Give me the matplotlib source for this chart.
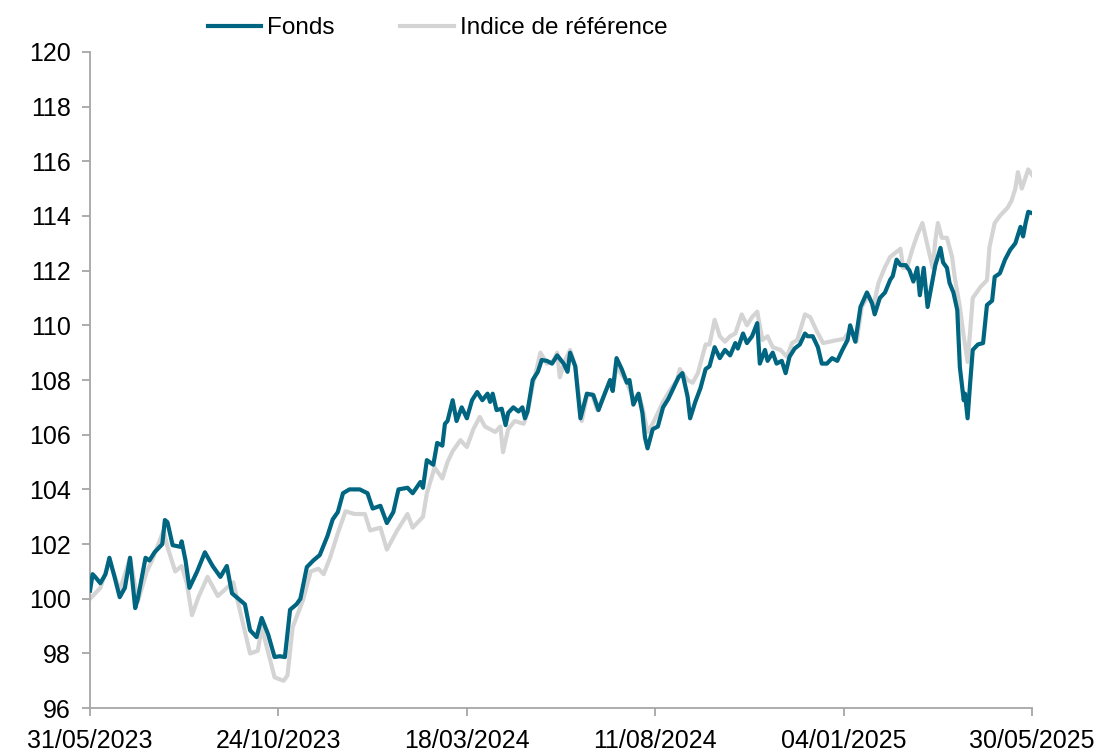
import numpy as np
import pandas as pd
import matplotlib
matplotlib.use('Agg')
from matplotlib import pyplot as plt
import matplotlib.dates as mdates

plt.rcParams['font.family'] = ['Liberation Sans', 'DejaVu Sans']

START = '2023-05-31'

# jours depuis le 31/05/2023, valeur base 100
fonds_days = [0, 2, 4, 8, 12, 15, 19, 23, 27, 31, 35, 37, 43, 46, 50, 56, 58, 60, 64, 70,
              71, 74, 77, 83, 89, 95, 101, 106, 110, 115, 120, 124, 129, 133, 138, 143, 147, 151, 155, 160,
              163, 168, 173, 178, 184, 188, 192, 196, 201, 209, 215, 219, 225, 230, 235, 239, 246, 250, 256, 258,
              261, 266, 269, 273, 275, 277, 281, 284, 288, 292, 296, 300, 304, 308, 310, 312, 315, 319, 322, 324,
              328, 332, 335, 337, 339, 343, 347, 350, 354, 358, 362, 367, 370, 372, 376, 380, 385, 390, 394, 398,
              403, 405, 408, 412, 416, 418, 421, 425, 428, 430, 432, 436, 440, 444, 448, 452, 456, 459, 463, 465,
              469, 473, 477, 480, 484, 488, 492, 496, 500, 502, 506, 509, 513, 517, 519, 523, 525, 529, 532, 536,
              539, 542, 546, 550, 554, 556, 560, 564, 567, 571, 575, 579, 583, 587, 589, 593, 597, 602, 606, 608,
              612, 616, 620, 622, 625, 628, 632, 635, 638, 641, 643, 646, 649, 653, 655, 659, 661, 664, 666, 669,
              672, 674, 677, 678, 680, 682, 684, 688, 692, 695, 699, 701, 705, 709, 713, 717, 721, 723, 725, 727,
              730]
fonds_vals = [100.3, 100.9, 100.8, 100.57, 100.9, 101.5, 100.8, 100.06, 100.4, 101.5, 99.66, 100.0, 101.5, 101.4, 101.7, 102.0, 102.88, 102.8, 101.96, 101.9,
              102.1, 101.4, 100.4, 101.0, 101.7, 101.2, 100.8, 101.2, 100.2, 100.0, 99.8, 98.85, 98.6, 99.3, 98.7, 97.87, 97.9, 97.87, 99.6, 99.8,
              100.0, 101.16, 101.4, 101.6, 102.3, 102.9, 103.17, 103.86, 104.0, 104.0, 103.86, 103.3, 103.4, 102.77, 103.17, 104.0, 104.06, 103.86, 104.27, 104.06,
              105.07, 104.9, 105.7, 105.6, 106.4, 106.5, 107.26, 106.5, 107.0, 106.6, 107.26, 107.56, 107.26, 107.5, 107.2, 107.5, 106.9, 106.95, 106.35, 106.8,
              107.0, 106.85, 107.0, 106.6, 106.85, 108.0, 108.3, 108.73, 108.7, 108.6, 108.9, 108.6, 108.3, 109.0, 108.5, 106.6, 107.5, 107.45, 106.9, 107.4,
              108.0, 107.6, 108.8, 108.4, 107.9, 108.0, 107.1, 107.5, 106.8, 105.9, 105.5, 106.2, 106.3, 107.0, 107.3, 107.7, 108.1, 108.25, 107.4, 106.6,
              107.2, 107.7, 108.4, 108.5, 109.2, 108.8, 109.1, 108.9, 109.35, 109.15, 109.7, 109.35, 109.6, 110.08, 108.6, 109.1, 108.7, 109.0, 108.6, 108.7,
              108.25, 108.85, 109.15, 109.3, 109.7, 109.6, 109.6, 109.2, 108.6, 108.6, 108.8, 108.7, 109.1, 109.46, 110.0, 109.4, 110.67, 111.2, 110.8, 110.4,
              111.0, 111.2, 111.66, 111.8, 112.4, 112.2, 112.2, 112.0, 111.6, 112.1, 111.1, 112.1, 110.67, 111.7, 112.2, 112.83, 112.3, 112.1, 111.55, 111.2,
              110.56, 108.47, 107.26, 107.5, 106.6, 107.9, 109.1, 109.3, 109.35, 110.74, 110.9, 111.77, 111.9, 112.4, 112.76, 113.0, 113.6, 113.25, 113.75, 114.15,
              114.1]

indice_days = [0, 4, 8, 15, 23, 31, 37, 44, 48, 57, 60, 66, 71, 75, 79, 84, 91, 99, 106, 111,
               118, 124, 130, 133, 139, 143, 150, 153, 157, 165, 171, 177, 181, 186, 192, 198, 205, 213, 217, 225,
               230, 238, 246, 250, 258, 261, 267, 273, 277, 281, 287, 292, 297, 302, 306, 310, 314, 318, 320, 324,
               329, 336, 339, 343, 349, 354, 359, 362, 364, 368, 372, 376, 378, 381, 385, 389, 393, 398, 403, 405,
               408, 412, 416, 421, 425, 428, 432, 436, 440, 444, 449, 455, 457, 463, 467, 471, 477, 480, 484, 488,
               492, 496, 500, 505, 509, 513, 517, 521, 525, 529, 535, 540, 544, 548, 554, 558, 563, 568, 573, 579,
               584, 589, 594, 598, 603, 607, 611, 616, 620, 624, 628, 630, 633, 637, 641, 645, 649, 653, 655, 657,
               660, 664, 668, 670, 674, 677, 680, 682, 684, 690, 695, 697, 701, 705, 711, 714, 717, 719, 722, 727,
               730]
indice_vals = [100.0, 100.2, 100.4, 101.4, 100.3, 101.5, 99.9, 101.0, 101.4, 102.5, 101.9, 101.0, 101.2, 100.57, 99.4, 100.06, 100.8, 100.1, 100.4, 100.6,
               99.2, 98.0, 98.1, 98.96, 97.87, 97.13, 97.0, 97.2, 98.96, 99.95, 101.0, 101.1, 100.9, 101.5, 102.4, 103.2, 103.1, 103.1, 102.5, 102.6,
               101.8, 102.5, 103.1, 102.6, 103.0, 103.86, 104.8, 104.4, 105.0, 105.4, 105.8, 105.55, 106.2, 106.65, 106.3, 106.2, 106.1, 106.3, 105.36, 106.2,
               106.5, 106.4, 106.8, 107.8, 109.0, 108.6, 108.7, 109.0, 108.1, 108.7, 109.1, 108.5, 107.7, 106.5, 107.4, 107.5, 106.9, 107.4, 108.0, 107.6,
               108.5, 108.2, 107.9, 107.3, 107.5, 107.0, 106.1, 106.4, 106.8, 107.2, 107.6, 108.0, 108.4, 108.0, 107.9, 108.25, 109.3, 109.3, 110.2, 109.6,
               109.4, 109.6, 109.7, 110.4, 110.0, 110.3, 110.5, 109.46, 109.6, 109.2, 109.1, 108.85, 109.35, 109.46, 110.4, 110.3, 109.8, 109.35, 109.4, 109.46,
               109.5, 109.8, 109.4, 110.67, 111.1, 110.7, 111.55, 112.13, 112.5, 112.65, 112.8, 112.1, 112.1, 112.75, 113.3, 113.74, 112.9, 112.1, 113.1, 113.74,
               113.2, 113.2, 112.5, 111.77, 110.67, 109.6, 108.66, 109.8, 111.0, 111.4, 111.65, 112.87, 113.74, 114.0, 114.3, 114.55, 115.0, 115.6, 115.0, 115.7,
               115.5]

tick_labels = ['31/05/2023', '24/10/2023', '18/03/2024', '11/08/2024', '04/01/2025', '30/05/2025']
y_ticks = list(range(96, 121, 2))

FONDS_COLOR = '#006580'
INDICE_COLOR = '#D4D4D4'
AXIS_COLOR = '#A6A6A6'

start = pd.Timestamp(START)
fonds_dates = start + pd.to_timedelta(fonds_days, unit='D')
indice_dates = start + pd.to_timedelta(indice_days, unit='D')
tick_dates = pd.to_datetime(tick_labels, format='%d/%m/%Y')

fig = plt.figure(figsize=(10.98, 7.51), dpi=100)
ax = fig.add_axes([0.082, 0.057, 0.858, 0.874])

ax.plot(indice_dates, indice_vals, color=INDICE_COLOR, lw=3.0, label='Indice de référence', zorder=2)
ax.plot(fonds_dates, fonds_vals, color=FONDS_COLOR, lw=3.0, label='Fonds', zorder=3)

ax.set_xlim(tick_dates[0], tick_dates[-1])
ax.set_ylim(96, 120)
ax.set_yticks(y_ticks)
ax.set_xticks(tick_dates)
ax.set_xticklabels(tick_labels)

for s in ['top', 'right']:
    ax.spines[s].set_visible(False)
for s in ['left', 'bottom']:
    ax.spines[s].set_color(AXIS_COLOR)
    ax.spines[s].set_linewidth(1.3)
ax.tick_params(axis='both', direction='out', length=6, width=1.3, color=AXIS_COLOR,
               labelsize=18, labelcolor='black')
ax.tick_params(axis='x', pad=9)
ax.tick_params(axis='y', pad=8)

handles, labels = ax.get_legend_handles_labels()
leg = ax.legend(handles[::-1], labels[::-1], loc='center', bbox_to_anchor=(0.369, 1.036),
                ncol=2, frameon=False, fontsize=17.5, handlelength=2.2, handletextpad=0.25,
                columnspacing=2.7, borderaxespad=0)

fig.savefig('out.png', dpi=100)
